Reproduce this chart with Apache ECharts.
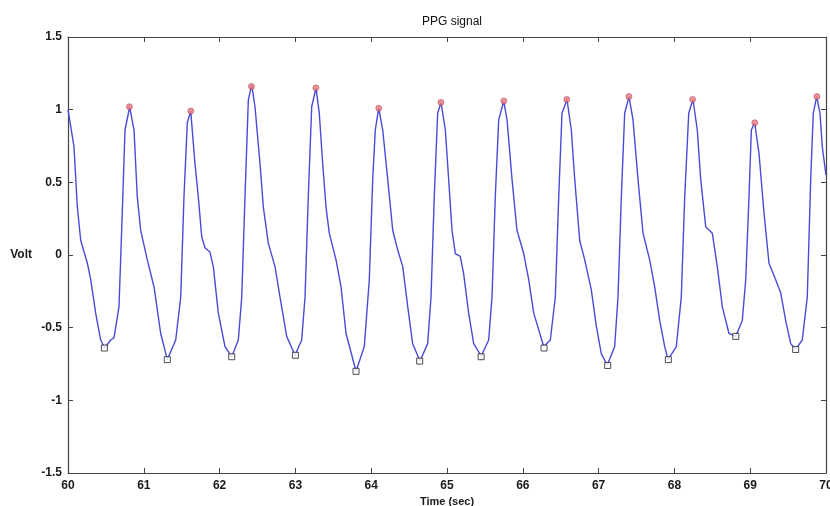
<!DOCTYPE html>
<html>
<head>
<meta charset="utf-8">
<script src="https://cdn.jsdelivr.net/npm/echarts@6/dist/echarts.min.js"></script>
<style>
  html, body { margin: 0; padding: 0; background: #fff; }
  #main { width: 830px; height: 506px; }
</style>
</head>
<body>
<div id="main"></div>
<script>
// PPG trace (time in sec, volts)
var sigT = [60.00, 60.079, 60.123, 60.168, 60.255, 60.30, 60.365, 60.431, 60.484, 60.563, 60.607, 60.673, 60.716, 60.752, 60.814,
  60.871, 60.914, 60.959, 61.046, 61.135, 61.223, 61.31, 61.421, 61.487, 61.53, 61.574, 61.619,
  61.675, 61.719, 61.764, 61.807, 61.873, 61.917, 61.983, 62.071, 62.16, 62.247, 62.292, 62.335, 62.379, 62.424,
  62.467, 62.533, 62.577, 62.643, 62.731, 62.797, 62.885, 62.995, 63.083, 63.127, 63.17, 63.215, 63.272,
  63.315, 63.36, 63.404, 63.447, 63.536, 63.602, 63.668, 63.80, 63.909, 63.975, 64.02, 64.054, 64.099,
  64.152, 64.218, 64.284, 64.35, 64.416, 64.482, 64.547, 64.644, 64.745, 64.789, 64.832, 64.877, 64.921,
  64.978, 65.022, 65.066, 65.11, 65.175, 65.22, 65.286, 65.352, 65.452, 65.55, 65.594, 65.637, 65.682, 65.748,
  65.792, 65.858, 65.923, 66.012, 66.078, 66.144, 66.276, 66.363, 66.429, 66.474, 66.517, 66.583,
  66.64, 66.685, 66.751, 66.817, 66.904, 66.97, 67.036, 67.115, 67.212, 67.256, 67.30, 67.344, 67.401,
  67.454, 67.52, 67.586, 67.674, 67.74, 67.806, 67.872, 67.916, 68.025, 68.091, 68.136, 68.189, 68.245,
  68.302, 68.347, 68.413, 68.50, 68.566, 68.632, 68.72, 68.809, 68.896, 68.941, 68.984, 69.015, 69.059,
  69.116, 69.182, 69.248, 69.336, 69.402, 69.468, 69.534, 69.60, 69.687, 69.753, 69.798, 69.832, 69.877,
  69.921, 69.951, 70.0];
var sigV = [1.00, 0.745, 0.33, 0.10, -0.055, -0.17, -0.40, -0.585, -0.64, -0.585, -0.57, -0.355, 0.29, 0.86, 1.02,
  0.86, 0.40, 0.17, -0.034, -0.22, -0.54, -0.72, -0.585, -0.29, 0.40, 0.91, 0.99,
  0.63, 0.40, 0.126, 0.05, 0.02, -0.08, -0.40, -0.63, -0.70, -0.585, -0.29, 0.40, 1.067, 1.17,
  1.02, 0.63, 0.33, 0.08, -0.08, -0.29, -0.56, -0.69, -0.585, -0.29, 0.40, 1.02, 1.15,
  0.975, 0.63, 0.33, 0.15, -0.034, -0.22, -0.54, -0.80, -0.63, -0.17, 0.52, 0.86, 1.01,
  0.86, 0.52, 0.17, 0.034, -0.08, -0.355, -0.61, -0.73, -0.61, -0.29, 0.40, 0.975, 1.05,
  0.86, 0.52, 0.17, 0.01, -0.01, -0.13, -0.40, -0.61, -0.695, -0.585, -0.29, 0.40, 0.93, 1.06,
  0.93, 0.52, 0.17, 0.01, -0.17, -0.40, -0.63, -0.585, -0.29, 0.40, 0.975, 1.07,
  0.86, 0.52, 0.10, -0.034, -0.24, -0.49, -0.68, -0.757, -0.63, -0.29, 0.40, 0.975, 1.09,
  0.93, 0.52, 0.15, -0.034, -0.22, -0.45, -0.63, -0.72, -0.63, -0.29, 0.40, 0.975, 1.07,
  0.86, 0.52, 0.195, 0.15, -0.08, -0.355, -0.54, -0.56, -0.45, -0.17, 0.40, 0.86, 0.91,
  0.70, 0.29, -0.057, -0.17, -0.26, -0.45, -0.61, -0.65, -0.585, -0.29, 0.52, 0.975, 1.09,
  0.975, 0.745, 0.55];

// detected peaks (circles) and troughs (squares)
var peakT = [60.81, 61.62, 62.42, 63.27, 64.10, 64.92, 65.75, 66.58, 67.40, 68.24, 69.06, 69.88];
var peakV = [1.02, 0.99, 1.16, 1.15, 1.01, 1.05, 1.06, 1.07, 1.09, 1.07, 0.91, 1.09];
var troughT = [60.48, 61.31, 62.16, 63.00, 63.80, 64.64, 65.45, 66.28, 67.12, 67.92, 68.81, 69.60];
var troughV = [-0.64, -0.72, -0.70, -0.69, -0.80, -0.73, -0.70, -0.64, -0.76, -0.72, -0.56, -0.65];

function pairs(xs, ys) {
  return xs.map(function (x, i) { return [x, ys[i]]; });
}

var font = 'Liberation Sans, Arial, sans-serif';
var lbl = { color: '#1a1a1a', fontFamily: font, fontSize: 12, fontWeight: 'bold' };
var axCol = '#444';

var chart = echarts.init(document.getElementById('main'));
chart.setOption({
  animation: false,
  backgroundColor: '#fff',
  title: {
    text: 'PPG signal',
    left: 447, top: 11, textAlign: 'center',
    textStyle: { fontFamily: font, fontSize: 12, fontWeight: 'normal', color: '#111' }
  },
  grid: { left: 68, right: 4, top: 37, bottom: 33, outerBoundsMode: 'none' },
  xAxis: [{
    type: 'value', min: 60, max: 70, interval: 1,
    name: 'Time (sec)', nameLocation: 'middle', nameGap: 19,
    nameTextStyle: { fontFamily: font, fontSize: 11, fontWeight: 'bold', color: '#1a1a1a' },
    axisLine: { onZero: false, lineStyle: { color: axCol, width: 1.2 } },
    axisTick: { inside: true, length: 5, lineStyle: { color: axCol } },
    axisLabel: Object.assign({ margin: 7 }, lbl),
    splitLine: { show: false }
  }, {
    type: 'value', min: 60, max: 70, interval: 1, position: 'top',
    axisLine: { onZero: false, lineStyle: { color: axCol, width: 1.2 } },
    axisTick: { inside: true, length: 5, lineStyle: { color: axCol } },
    axisLabel: { show: false }, splitLine: { show: false }
  }],
  yAxis: [{
    type: 'value', min: -1.5, max: 1.5, interval: 0.5,
    name: 'Volt', nameLocation: 'middle', nameGap: 36, nameRotate: 0,
    nameTextStyle: { fontFamily: font, fontSize: 12, fontWeight: 'bold', color: '#1a1a1a' },
    axisLine: { onZero: false, lineStyle: { color: axCol, width: 1.2 } },
    axisTick: { inside: true, length: 5, lineStyle: { color: axCol } },
    axisLabel: Object.assign({ margin: 6 }, lbl),
    splitLine: { show: false }
  }, {
    type: 'value', min: -1.5, max: 1.5, interval: 0.5, position: 'right',
    axisLine: { show: true, onZero: false, lineStyle: { color: axCol, width: 1.2 } },
    axisTick: { show: true, inside: true, length: 5, lineStyle: { color: axCol } },
    axisLabel: { show: false }, splitLine: { show: false }
  }],
  series: [{
    type: 'line',
    data: pairs(sigT, sigV),
    showSymbol: false,
    lineStyle: { color: '#4a4ad8', width: 1.4 },
    z: 2
  }, {
    type: 'scatter',
    data: pairs(peakT, peakV),
    symbol: 'circle', symbolSize: 6,
    itemStyle: { color: '#ec7a7a', borderColor: '#a03050', borderWidth: 0.6 },
    z: 3
  }, {
    type: 'scatter',
    data: pairs(troughT, troughV),
    symbol: 'rect', symbolSize: 6,
    itemStyle: { color: '#fff', borderColor: '#222', borderWidth: 1 },
    z: 3
  }]
});
</script>
</body>
</html>
